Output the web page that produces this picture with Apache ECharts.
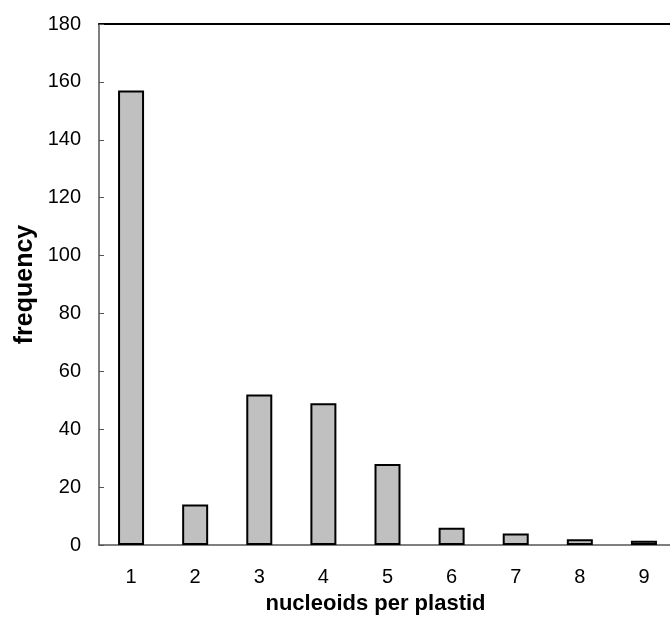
<!DOCTYPE html>
<html>
<head>
<meta charset="utf-8">
<script src="https://cdn.jsdelivr.net/npm/echarts@6/dist/echarts.min.js"></script>
<style>
    html, body { margin: 0; padding: 0; background: #ffffff; }
    #chart { width: 670px; height: 621px; }
</style>
</head>
<body>
<div id="chart"></div>
<script>
// 数据
var categories = ['1', '2', '3', '4', '5', '6', '7', '8', '9'];
var frequency = [157, 14, 52, 49, 28, 6, 4, 2, 1.5];
var yTicks = [0, 20, 40, 60, 80, 100, 120, 140, 160, 180];

var myChart = echarts.init(document.getElementById('chart'));

var font = "'Liberation Sans', Arial, sans-serif";

var option = {
    animation: false,
    backgroundColor: '#ffffff',
    grid: {
        left: 99,
        top: 24,
        width: 577,
        bottom: 76,
        outerBoundsMode: 'none',
        containLabel: false
    },
    xAxis: [
        {
            type: 'category',
            data: categories,
            name: 'nucleoids per plastid',
            nameLocation: 'middle',
            nameGap: 48,
            nameMoveOverlap: false,
            nameTextStyle: {
                fontFamily: font,
                fontSize: 22,
                fontWeight: 'bold',
                color: '#000000',
                padding: [0, 24, 0, 0]
            },
            axisLine: {
                lineStyle: { color: '#555555', width: 1.5 }
            },
            axisTick: { show: false },
            axisLabel: {
                margin: 22,
                fontFamily: font,
                fontSize: 20,
                color: '#000000'
            }
        },
        {
            // 上边框
            type: 'category',
            position: 'top',
            data: categories,
            axisLine: {
                lineStyle: { color: '#000000', width: 2 }
            },
            axisTick: { show: false },
            axisLabel: { show: false }
        }
    ],
    yAxis: {
        type: 'value',
        min: yTicks[0],
        max: yTicks[yTicks.length - 1],
        interval: 20,
        name: 'frequency',
        nameLocation: 'middle',
        nameGap: 61,
        nameMoveOverlap: false,
        nameTextStyle: {
            fontFamily: font,
            fontSize: 25,
            fontWeight: 'bold',
            color: '#000000'
        },
        axisLine: {
            show: true,
            lineStyle: { color: '#555555', width: 1.5 }
        },
        axisTick: {
            show: true,
            inside: true,
            length: 5,
            lineStyle: { color: '#555555' }
        },
        splitLine: { show: false },
        axisLabel: {
            margin: 18,
            fontFamily: font,
            fontSize: 20,
            color: '#000000'
        }
    },
    series: [{
        type: 'bar',
        data: frequency,
        barWidth: 26,
        itemStyle: {
            color: '#c0c0c0',
            borderColor: '#000000',
            borderWidth: 2
        }
    }]
};

myChart.setOption(option);
</script>
</body>
</html>
